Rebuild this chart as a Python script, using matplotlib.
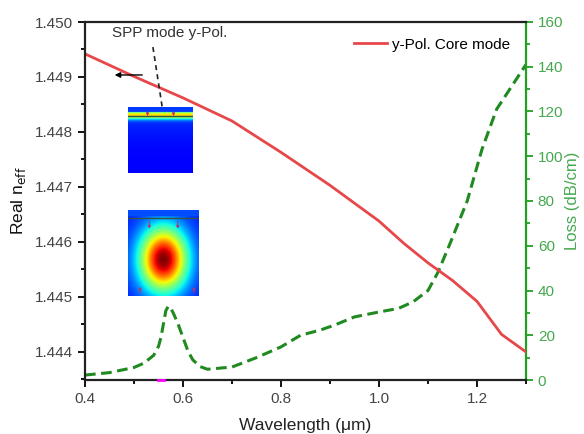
import numpy as np
import matplotlib
matplotlib.use("Agg")
import matplotlib.pyplot as plt
from matplotlib.ticker import MultipleLocator

plt.rcParams['font.family'] = ['Liberation Sans', 'DejaVu Sans']

# real part of n_eff, y-pol core mode
wl_core = [0.40, 0.50, 0.60, 0.70, 0.80, 0.90, 1.00, 1.05, 1.10, 1.15, 1.20, 1.25, 1.30]
neff_core = [1.44942, 1.44901, 1.44862, 1.44820, 1.44763, 1.44703, 1.44638,
             1.44598, 1.44562, 1.44530, 1.44492, 1.44432, 1.44400]

# loss of the core mode (dB/cm)
wl_loss = [0.40, 0.45, 0.50, 0.52, 0.54, 0.55, 0.555, 0.56, 0.565, 0.57, 0.575, 0.58,
           0.59, 0.60, 0.61, 0.62, 0.635, 0.65, 0.70, 0.75, 0.80, 0.84, 0.88, 0.91,
           0.95, 1.00, 1.04, 1.07, 1.10, 1.12, 1.145, 1.18, 1.21, 1.24, 1.27, 1.30]
loss = [2.2, 3.3, 5.6, 7.5, 11, 15, 19, 25, 31, 33, 32, 30,
        25, 19, 13, 9, 6, 4.8, 5.8, 10, 14.8, 20, 22.3, 24.6,
        28.2, 30.4, 32, 35, 40, 48, 61, 80, 103, 121, 131, 141]

red = '#e8474a'
green = '#1f8a1f'
green_ax = '#22a022'
green_txt = '#45a84f'

fig = plt.figure(figsize=(5.84, 4.34), dpi=100)
ax = fig.add_axes([85 / 584, 1 - 380 / 434, 441 / 584, 358 / 434])
ax2 = ax.twinx()

ln, = ax.plot(wl_core, neff_core, color=red, lw=2, label='y-Pol. Core mode')
ax2.plot(wl_loss, loss, color=green, lw=2.2, ls=(0, (3.5, 1.8)))

ax.set_xlim(0.4, 1.3)
ax.set_ylim(1.44349, 1.450)
ax2.set_ylim(0, 160)
ax.set_zorder(ax2.get_zorder() + 1)
ax.patch.set_visible(False)

ax.xaxis.set_major_locator(MultipleLocator(0.2))
ax.xaxis.set_minor_locator(MultipleLocator(0.1))
ax.yaxis.set_major_locator(MultipleLocator(0.001))
ax.yaxis.set_minor_locator(MultipleLocator(0.0005))
ax2.yaxis.set_major_locator(MultipleLocator(20))
ax2.yaxis.set_minor_locator(MultipleLocator(10))
ax.yaxis.set_major_formatter(plt.FormatStrFormatter('%.3f'))
ax.xaxis.set_major_formatter(plt.FormatStrFormatter('%.1f'))

ax.tick_params(which='both', direction='out', labelsize=11, labelcolor='#444444', width=1.3)
ax.tick_params(which='major', length=5)
ax.tick_params(which='minor', length=3)
ax.tick_params(axis='x', top=False)
ax2.tick_params(which='both', direction='out', colors=green_ax, labelcolor=green_txt,
                labelsize=11, width=1.3)
ax2.tick_params(which='major', length=5)
ax2.tick_params(which='minor', length=3)

for s in ['left', 'bottom', 'top']:
    ax.spines[s].set_linewidth(1.6)
    ax.spines[s].set_color('#222222')
ax.spines['right'].set_visible(False)
ax2.spines['left'].set_visible(False)
ax2.spines['bottom'].set_visible(False)
ax2.spines['top'].set_visible(False)
ax2.spines['right'].set_color(green_ax)
ax2.spines['right'].set_linewidth(1.6)

ax.set_xlabel('Wavelength (\u03bcm)', fontsize=12.5, color='#222222', labelpad=9)
ax.set_ylabel(r'Real n$_{\mathrm{eff}}$', fontsize=12.5, color='#111111', labelpad=5)
ax2.set_ylabel('Loss (dB/cm)', fontsize=12, color=green_txt, labelpad=1)

ax.legend(handles=[ln], loc='upper right', frameon=False, fontsize=11,
          handlelength=2.2, handletextpad=0.3, bbox_to_anchor=(0.995, 0.995))

# annotation for the SPP mode
ax.text(0.061, 0.969, 'SPP mode y-Pol.', transform=ax.transAxes, fontsize=11,
        color='#333333', va='center', ha='left')
ax.plot([0.154, 0.175], [0.930, 0.763], transform=ax.transAxes, color='#222222',
        lw=1.2, ls=(0, (3, 2.5)))
ax.annotate('', xy=(0.061, 0.852), xytext=(0.136, 0.852), xycoords='axes fraction',
            arrowprops=dict(arrowstyle='-|>', color='black', lw=1, mutation_scale=8))

# small magenta mark on the x axis
ax.plot([0.548, 0.562], [1.44349, 1.44349], color='magenta', lw=2, clip_on=False, zorder=5)

# mode field insets
yy, xx = np.mgrid[0:1:120j, 0:1:120j]

top = 0.12 + 0.5 * np.exp(-((yy - 0.12) / 0.06) ** 2) + 0.1 * np.exp(-yy / 0.3)
top[yy < 0.07] = 0.18
ia = fig.add_axes([128 / 584, 1 - 173 / 434, 65 / 584, 66 / 434])
ia.imshow(top, cmap='jet', vmin=0, vmax=1, aspect='auto', extent=(0, 1, 1, 0))
ia.plot([0, 1], [0.13, 0.13], color='#335544', lw=1)
for xa in [0.3, 0.7]:
    ia.annotate('', xy=(xa, 0.18), xytext=(xa, 0.04),
                arrowprops=dict(arrowstyle='-|>', color='#c0306a', lw=0.7, mutation_scale=4))
ia.set_xlim(0, 1)
ia.set_ylim(1, 0)
ia.axis('off')

bot = 0.15 + 0.85 * np.exp(-(((xx - 0.5) / 0.33) ** 2 + ((yy - 0.58) / 0.36) ** 2))
bot[yy < 0.08] = 0.2
ib = fig.add_axes([128 / 584, 1 - 296 / 434, 71 / 584, 86 / 434])
ib.imshow(bot, cmap='jet', vmin=0, vmax=1, aspect='auto', extent=(0, 1, 1, 0))
ib.plot([0, 1], [0.09, 0.09], color='#335544', lw=1)
for xa in [0.3, 0.7]:
    ib.annotate('', xy=(xa, 0.25), xytext=(xa, 0.1),
                arrowprops=dict(arrowstyle='-|>', color='#c0306a', lw=0.7, mutation_scale=4))
for xa in [0.17, 0.93]:
    ib.annotate('', xy=(xa, 0.86), xytext=(xa, 1.0),
                arrowprops=dict(arrowstyle='-|>', color='#c0306a', lw=0.7, mutation_scale=4))
ib.set_xlim(0, 1)
ib.set_ylim(1, 0)
ib.axis('off')

fig.savefig('out.png', dpi=100)
